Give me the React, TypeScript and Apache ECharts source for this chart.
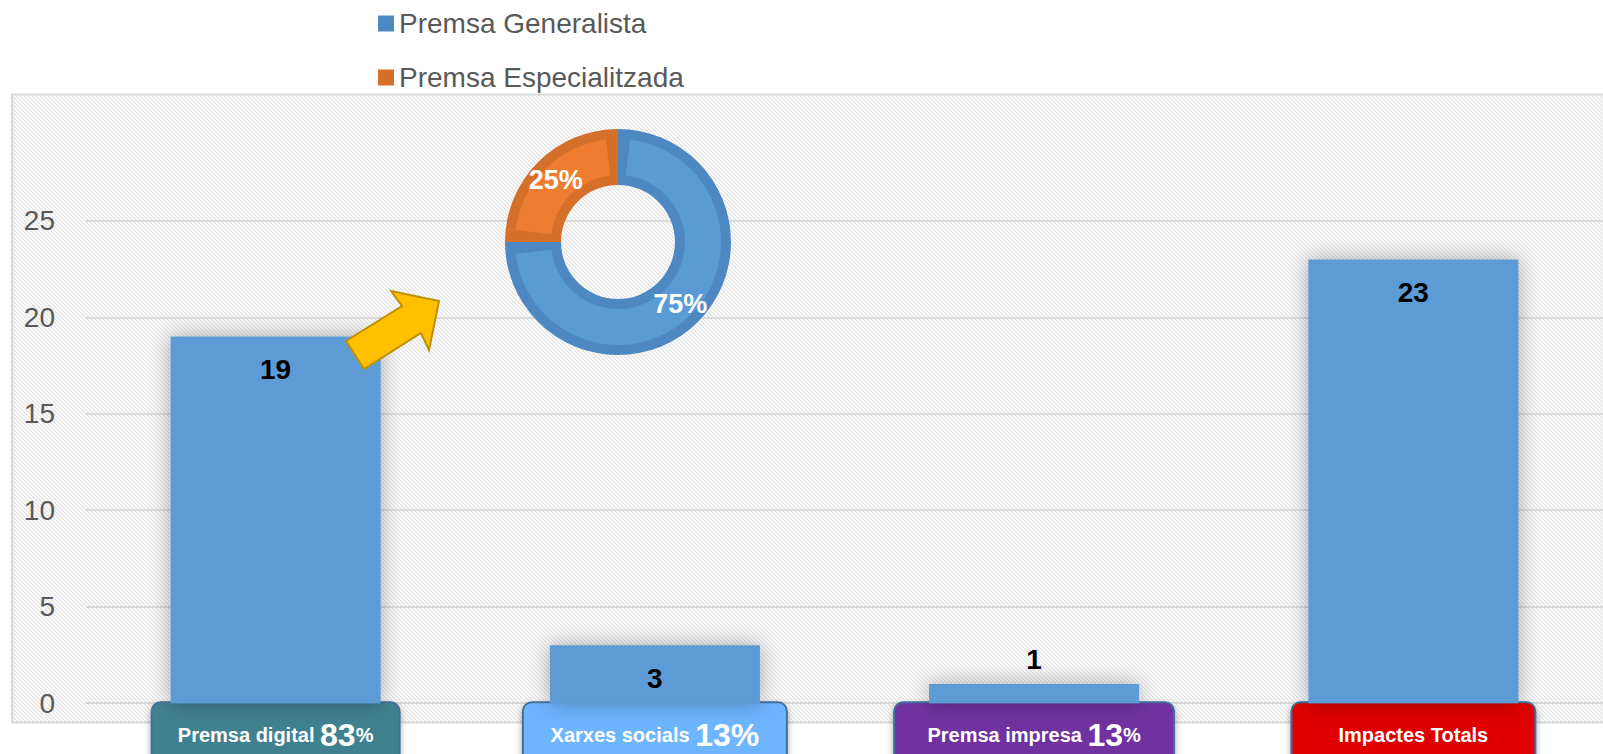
import React, { useEffect, useRef } from 'react';
import * as echarts from 'echarts';

// ---------- data ----------
const categories = ['Premsa digital', 'Xarxes socials', 'Premsa impresa', 'Impactes Totals'];
const impactValues = [19, 3, 1, 23];
const categoryShares = ['83', '13', '13', ''];
const pressTypes = ['Premsa Generalista', 'Premsa Especialitzada'];
const pressShares = [75, 25];
const yTicks = [0, 5, 10, 15, 20, 25];

// ---------- styles ----------
const FONT = '"Liberation Sans", Arial, sans-serif';
const boxColors = ['#41818F', '#6DB5FF', '#7030A0', '#E00000'];
const boxWidths = [246, 262, 278, 242];
const bigPercent = [false, true, false, false];
const ringDark = ['#4E88C2', '#D5702B'];
const ringLight = ['#5B9BD5', '#ED7D31'];

function makeHatch() {
  const c = document.createElement('canvas');
  c.width = 8;
  c.height = 8;
  const ctx = c.getContext('2d');
  if (ctx) {
    ctx.fillStyle = '#ffffff';
    ctx.fillRect(0, 0, 8, 8);
    ctx.strokeStyle = '#e4e4e4';
    ctx.lineWidth = 1.4;
    for (let k = -8; k <= 8; k += 4) {
      ctx.beginPath();
      ctx.moveTo(k, 0);
      ctx.lineTo(k + 8, 8);
      ctx.stroke();
    }
  }
  return c;
}

export default function App() {
  const ref = useRef<HTMLDivElement>(null);

  useEffect(() => {
    if (!ref.current) return;
    const chart = echarts.init(ref.current, null, { renderer: 'svg' });

    const hatch = makeHatch();

    // light inner layer of the ring with inset gaps
    const gapFrac = ((10 / 85) * 180) / Math.PI / 360;
    const total = pressShares.reduce((a, b) => a + b, 0);
    const g = gapFrac * total;
    const lightData: any[] = [];
    pressShares.forEach((v, i) => {
      lightData.push({ name: 'gapA' + i, value: g, itemStyle: { color: 'rgba(0,0,0,0)' }, label: { show: false } });
      lightData.push({
        name: pressTypes[i],
        value: v - 2 * g,
        itemStyle: { color: ringLight[i] },
        label: { show: true, formatter: () => v + '%' },
      });
      lightData.push({ name: 'gapB' + i, value: g, itemStyle: { color: 'rgba(0,0,0,0)' }, label: { show: false } });
    });

    const xData = categories.map((c, i) => ({
      value: c,
      textStyle: {
        backgroundColor: boxColors[i],
        borderColor: '#41719C',
        borderWidth: 2,
        borderRadius: 8,
        width: boxWidths[i],
        height: 64,
        padding: 0,
        shadowBlur: 6,
        shadowColor: 'rgba(0,0,0,0.35)',
        shadowOffsetY: 3,
      },
    }));

    const option: any = {
      animation: false,
      legend: {
        orient: 'vertical',
        left: 378,
        top: 9.5,
        padding: 0,
        itemWidth: 16,
        itemHeight: 16,
        itemGap: 26,
        icon: 'rect',
        selectedMode: false,
        data: pressTypes,
        textStyle: { fontSize: 28, color: '#595959', fontFamily: FONT },
      },
      grid: { left: 86, right: 0, top: 220.8, bottom: 50.8, containLabel: false, outerBoundsMode: 'none' },
      xAxis: {
        type: 'category',
        data: xData,
        axisLine: { show: true, lineStyle: { color: '#D9D9D9', width: 2 } },
        axisTick: { show: false },
        axisLabel: {
          interval: 0,
          margin: 0,
          formatter: (value: string, idx: number) => {
            const share = categoryShares[idx];
            if (!share) return '{s|' + value + '}';
            if (bigPercent[idx]) return '{s|' + value + ' }{b|' + share + '%}';
            return '{s|' + value + ' }{b|' + share + '}{s|%}';
          },
          rich: {
            s: { fontSize: 20, fontWeight: 'bold', color: '#ffffff', fontFamily: FONT, lineHeight: 64 },
            b: { fontSize: 32, fontWeight: 'bold', color: '#ffffff', fontFamily: FONT, lineHeight: 64 },
          },
        },
      },
      yAxis: {
        type: 'value',
        min: yTicks[0],
        max: yTicks[yTicks.length - 1],
        interval: yTicks[1] - yTicks[0],
        axisLine: { show: false },
        axisTick: { show: false },
        axisLabel: { fontSize: 28, color: '#595959', margin: 31, fontFamily: FONT },
        splitLine: { lineStyle: { color: '#D9D9D9', width: 2 } },
      },
      graphic: [
        {
          type: 'rect',
          z: -10,
          silent: true,
          shape: { x: 12, y: 94.5, width: 1600, height: 628 },
          style: { fill: { image: hatch, repeat: 'repeat' }, stroke: '#D9D9D9', lineWidth: 2 },
        },
        {
          type: 'polygon',
          z: 100,
          silent: true,
          shape: {
            points: [
              [364, 369],
              [346, 341],
              [402, 306],
              [391, 291],
              [439, 301],
              [429, 350],
              [421, 333],
            ],
          },
          style: { fill: '#FFC000', stroke: '#BF9000', lineWidth: 2 },
        },
      ],
      series: [
        {
          type: 'bar',
          data: impactValues.map((v) => ({
            value: v,
            label: v < 2 ? { position: 'top', distance: 10 } : { position: 'insideTop', distance: 19 },
          })),
          barWidth: '55.4%',
          itemStyle: { color: '#5B9BD5', shadowBlur: 20, shadowColor: 'rgba(0,0,0,0.32)' },
          label: {
            show: true,
            fontSize: 28,
            fontWeight: 'bold',
            color: '#000000',
            fontFamily: FONT,
            lineHeight: 28,
          },
          silent: true,
        },
        {
          type: 'pie',
          center: [618, 242],
          radius: [57, 113],
          startAngle: 90,
          clockwise: true,
          silent: true,
          label: { show: false },
          labelLine: { show: false },
          data: pressTypes.map((n, i) => ({ name: n, value: pressShares[i], itemStyle: { color: ringDark[i] } })),
          z: 3,
        },
        {
          type: 'pie',
          center: [618, 242],
          radius: [67, 103],
          startAngle: 90,
          clockwise: true,
          silent: true,
          avoidLabelOverlap: false,
          labelLine: { show: false },
          label: {
            position: 'inside',
            fontSize: 27,
            fontWeight: 'bold',
            color: '#ffffff',
            fontFamily: FONT,
          },
          data: lightData,
          z: 4,
        },
      ],
    };

    chart.setOption(option);
    return () => chart.dispose();
  }, []);

  return (
    <div
      ref={ref}
      style={{ position: 'fixed', left: 0, top: 0, width: 1603, height: 754, overflow: 'hidden', background: '#fff' }}
    />
  );
}
